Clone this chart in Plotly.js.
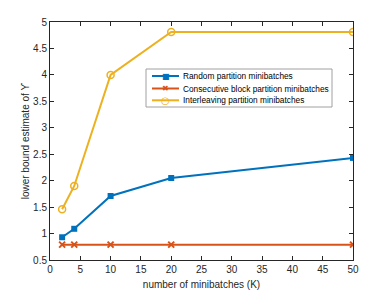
<!DOCTYPE html>
<html><head><meta charset="utf-8">
<script src="https://cdn.plot.ly/plotly-3.0.1.min.js"></script>
<style>html,body{margin:0;padding:0;background:#fff}#chart{width:390px;height:293px}</style>
</head><body><div id="chart"></div>
<script>
const K = [2, 4, 10, 20, 50];
const randomPartition = [0.93, 1.09, 1.71, 2.05, 2.43];
const consecutivePartition = [0.79, 0.79, 0.79, 0.79, 0.79];
const interleavingPartition = [1.46, 1.90, 4.00, 4.81, 4.81];
const seriesNames = ['Random partition minibatches', 'Consecutive block partition minibatches', 'Interleaving partition minibatches'];
const seriesColors = ['#0072BD', '#D95319', '#EDB120'];
const legendGlyphs = ['■', '✖', '○'];
const xTicks = [0, 5, 10, 15, 20, 25, 30, 35, 40, 45, 50];
const yTicks = [0.5, 1, 1.5, 2, 2.5, 3, 3.5, 4, 4.5, 5];

const FONT = 'Liberation Sans, Arial, sans-serif';
const M = {l: 50, r: 37, t: 22, b: 33};
const W = 390, H = 293;
const PW = W - M.l - M.r, PH = H - M.t - M.b;
const px = x => (x - M.l) / PW;
const py = y => (H - M.b - y) / PH;

const traces = [
  {x: K, y: randomPartition, name: seriesNames[0], mode: 'lines+markers',
   line: {color: seriesColors[0], width: 2}, marker: {symbol: 'square', size: 6, color: seriesColors[0]}},
  {x: K, y: consecutivePartition, name: seriesNames[1], mode: 'lines+markers',
   line: {color: seriesColors[1], width: 2}, marker: {symbol: 'x-thin', size: 6, color: seriesColors[1], line: {color: seriesColors[1], width: 2}}},
  {x: K, y: interleavingPartition, name: seriesNames[2], mode: 'lines+markers',
   line: {color: seriesColors[2], width: 2}, marker: {symbol: 'circle-open', size: 7, color: seriesColors[2], line: {width: 1.5}}}
];

// custom compact legend (MATLAB style)
const box = {x0: 146, x1: 332, y0: 69, y1: 107};
const rowsY = [76, 88.5, 100.3];
const shapes = [{type: 'rect', xref: 'paper', yref: 'paper',
  x0: px(box.x0), x1: px(box.x1), y0: py(box.y1), y1: py(box.y0),
  line: {color: '#a0a0a0', width: 1}, fillcolor: '#fff', layer: 'above'}];
const annotations = [];
seriesNames.forEach((name, i) => {
  shapes.push({type: 'line', xref: 'paper', yref: 'paper', layer: 'above',
    x0: px(152), x1: px(179), y0: py(rowsY[i]), y1: py(rowsY[i]),
    line: {color: seriesColors[i], width: 2}});
  annotations.push({xref: 'paper', yref: 'paper', x: px(165.5), y: py(rowsY[i]),
    text: legendGlyphs[i], showarrow: false, xanchor: 'center', yanchor: 'middle',
    font: {family: 'DejaVu Sans', size: i === 2 ? 10 : 8, color: seriesColors[i]}});
  annotations.push({xref: 'paper', yref: 'paper', x: px(181), y: py(rowsY[i]),
    text: name, showarrow: false, xanchor: 'left', yanchor: 'middle',
    font: {family: FONT, size: 8.3, color: '#000'}});
});

const axisCommon = {
  showline: true, linecolor: '#262626', linewidth: 1, mirror: 'ticks',
  ticks: 'inside', ticklen: 4, tickcolor: '#262626', showgrid: false, zeroline: false,
  tickfont: {family: FONT, size: 10, color: '#262626'}
};

const layout = {
  width: W, height: H, margin: M,
  paper_bgcolor: '#fff', plot_bgcolor: '#fff',
  showlegend: false,
  shapes: shapes, annotations: annotations,
  xaxis: Object.assign({}, axisCommon, {range: [0, 50], tickvals: xTicks,
    title: {text: 'number of minibatches (K)', standoff: 6,
      font: {family: FONT, size: 10, color: '#262626'}}}),
  yaxis: Object.assign({}, axisCommon, {range: [0.5, 5], tickvals: yTicks,
    title: {text: 'lower bound estimate of ϒ', standoff: 1,
      font: {family: FONT, size: 10, color: '#262626'}}})
};

Plotly.newPlot('chart', traces, layout, {displayModeBar: false, staticPlot: true});
</script></body></html>
